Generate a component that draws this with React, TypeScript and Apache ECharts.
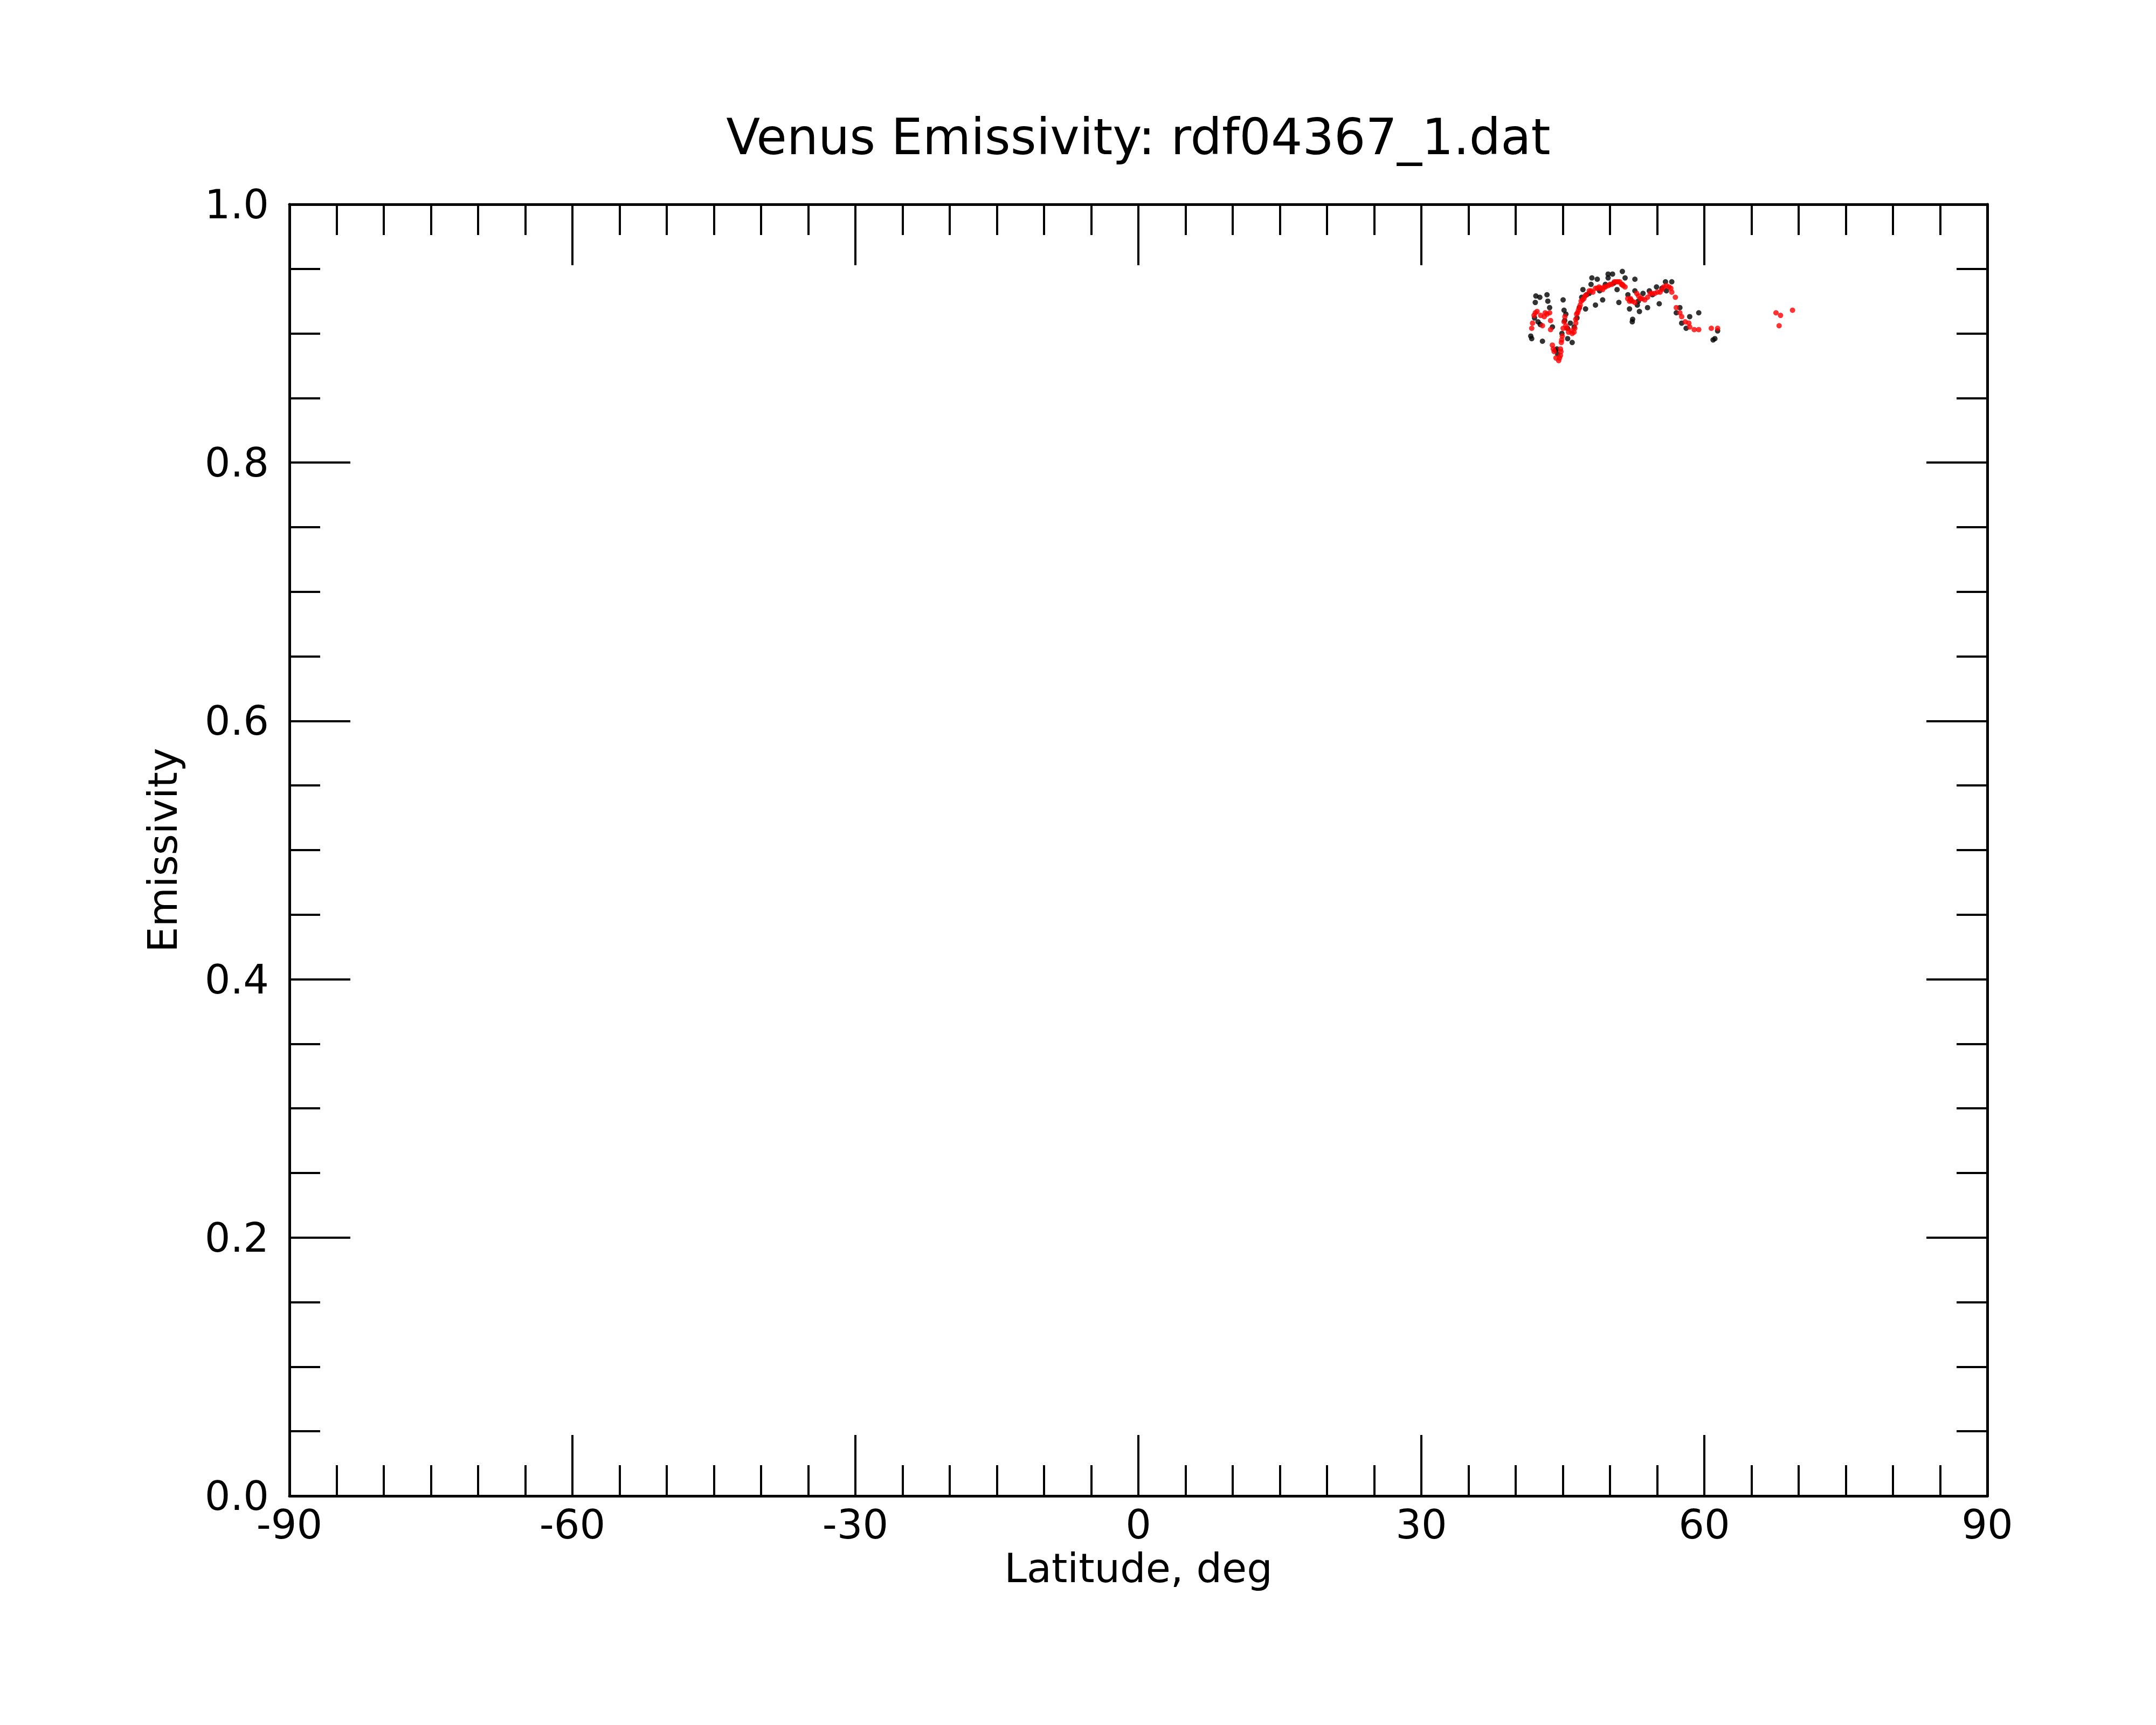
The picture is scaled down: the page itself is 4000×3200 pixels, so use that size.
import React, { useEffect, useRef } from "react";
import * as echarts from "echarts";

const titleText = "Venus Emissivity: rdf04367_1.dat";
const xName = "Latitude, deg";
const yName = "Emissivity";

const xTicks = [-90, -60, -30, 0, 30, 60, 90];
const yTicks = [0, 0.2, 0.4, 0.6, 0.8, 1.0];

// Raw measurements (black)
const blackLat = [
  41.60, 41.70, 42.84, 42.14, 42.56, 42.08, 43.32, 43.41, 43.60, 42.37, 45.03, 45.13, 45.32,
  44.37, 44.46, 45.80, 45.99, 45.51, 46.75, 47.13, 47.51, 47.41, 48.08, 48.65, 47.99,
  48.46, 49.22, 49.51, 49.80, 50.27, 49.80, 50.75, 50.94,
  42.00, 42.60, 44.20, 44.90, 45.50, 46.20, 46.50, 47.00, 47.80, 48.90, 50.40, 43.90, 45.20,
  51.31, 51.60, 52.64, 52.07, 52.36, 52.40, 53.12, 53.98, 52.64, 53.50, 54.17, 54.93,
  55.22, 55.88, 56.55, 55.98, 57.41, 57.03, 57.60, 58.45, 58.07, 59.41, 60.93, 61.12, 61.41,
  52.20, 53.00, 54.50, 55.50, 51.90, 52.90,
];
const blackEmis = [
  0.898, 0.896, 0.894, 0.929, 0.928, 0.924, 0.930, 0.925, 0.920, 0.909, 0.926, 0.918, 0.915,
  0.888, 0.884, 0.908, 0.893, 0.896, 0.920, 0.934, 0.930, 0.919, 0.943, 0.942, 0.938,
  0.922, 0.926, 0.938, 0.946, 0.946, 0.943, 0.934, 0.924,
  0.912, 0.907, 0.887, 0.900, 0.904, 0.905, 0.912, 0.928, 0.931, 0.933, 0.939, 0.905, 0.910,
  0.948, 0.943, 0.942, 0.919, 0.909, 0.911, 0.917, 0.920, 0.933, 0.931, 0.933, 0.936,
  0.923, 0.940, 0.940, 0.933, 0.920, 0.916, 0.908, 0.913, 0.904, 0.916, 0.895, 0.896, 0.902,
  0.926, 0.925, 0.930, 0.935, 0.930, 0.922,
];

// Smoothed / filtered values (red)
const redLat = [
  41.70, 41.95, 42.27, 42.65, 42.84, 43.03, 43.13, 43.60, 43.70, 43.70, 43.89, 44.08, 44.27,
  44.56, 44.75, 44.75, 44.84, 44.94, 45.03, 45.22, 45.32, 45.60, 45.89, 46.18, 46.37, 46.46,
  46.65, 46.84, 46.94, 47.22, 47.51, 47.80, 48.18, 48.46, 48.84, 49.22, 49.51, 49.80, 50.18,
  50.46, 50.84, 51.03, 51.30, 51.60, 52.07, 52.17, 52.64, 52.84, 53.22, 53.69, 54.26, 54.74,
  55.31, 55.69, 56.26, 56.55, 56.93, 57.03, 57.41, 57.60, 57.98, 58.36, 58.45, 58.93, 59.41,
  60.74, 61.41, 67.60, 68.08, 67.93, 69.35,
  46.27, 46.37, 46.56, 46.75, 47.09, 47.36, 47.99, 48.65, 49.03, 49.38, 49.98, 50.65,
  43.99, 44.65, 44.80, 44.88, 45.13, 45.99, 45.41, 41.79, 42.08, 43.32,
  51.22, 51.41, 51.88, 52.36, 53.03, 53.41, 53.98, 54.45, 55.03, 55.50, 55.98, 56.45,
];
const redEmis = [
  0.904, 0.914, 0.917, 0.914, 0.906, 0.913, 0.916, 0.916, 0.910, 0.903, 0.891, 0.886, 0.881,
  0.879, 0.883, 0.888, 0.893, 0.898, 0.904, 0.913, 0.906, 0.901, 0.902, 0.901, 0.908, 0.915,
  0.918, 0.922, 0.925, 0.927, 0.930, 0.933, 0.932, 0.935, 0.936, 0.934, 0.936, 0.937, 0.938,
  0.940, 0.940, 0.940, 0.938, 0.936, 0.925, 0.927, 0.924, 0.931, 0.927, 0.926, 0.931, 0.931,
  0.932, 0.936, 0.936, 0.932, 0.928, 0.920, 0.916, 0.913, 0.909, 0.908, 0.905, 0.903, 0.903,
  0.904, 0.904, 0.916, 0.914, 0.906, 0.918,
  0.904, 0.911, 0.916, 0.920, 0.926, 0.929, 0.933, 0.935, 0.935, 0.936, 0.938, 0.940,
  0.888, 0.881, 0.886, 0.895, 0.909, 0.900, 0.904, 0.908, 0.916, 0.915,
  0.938, 0.937, 0.927, 0.925, 0.929, 0.927, 0.928, 0.931, 0.932, 0.934, 0.937, 0.935,
];

const FONT = "DejaVu Sans";
const GRID = { left: 537, top: 379, width: 3150, height: 2396 };

function axisCommon(isX: boolean, showLabels: boolean) {
  const vals = isX ? xTicks : yTicks;
  return {
    type: "value",
    min: vals[0],
    max: vals[vals.length - 1],
    interval: vals[1] - vals[0],
    axisLine: { show: true, onZero: false, lineStyle: { color: "#000", width: 5 } },
    axisTick: { show: true, inside: true, length: 113, lineStyle: { color: "#000", width: 4 } },
    minorTick: { show: true, splitNumber: isX ? 6 : 4, length: 57, lineStyle: { color: "#000", width: 4 } },
    splitLine: { show: false },
    minorSplitLine: { show: false },
    axisLabel: {
      show: showLabels,
      fontSize: 75,
      fontFamily: FONT,
      color: "#000",
      margin: isX ? 15 : 38,
      formatter: isX ? (v: number) => String(v) : (v: number) => v.toFixed(1),
    },
  };
}

export default function App() {
  const ref = useRef<HTMLDivElement>(null);
  useEffect(() => {
    if (!ref.current) return;
    const chart = echarts.init(ref.current, null, { renderer: "svg" });
    const black = blackLat.map((x, i) => [x, blackEmis[i]]);
    const red = redLat.map((x, i) => [x, redEmis[i]]);
    chart.setOption({
      animation: false,
      backgroundColor: "#fff",
      graphic: [
        {
          type: "text",
          x: GRID.left + GRID.width / 2,
          y: 254,
          style: {
            text: titleText,
            fontSize: 92,
            fontFamily: FONT,
            fill: "#000",
            align: "center",
            verticalAlign: "middle",
          },
        },
      ],
      grid: { ...GRID, containLabel: false },
      xAxis: [
        {
          ...axisCommon(true, true),
          position: "bottom",
          name: xName,
          nameLocation: "middle",
          nameGap: 96,
          nameTextStyle: { fontSize: 75, fontFamily: FONT, color: "#000" },
        },
        { ...axisCommon(true, false), position: "top" },
      ],
      yAxis: [
        {
          ...axisCommon(false, true),
          position: "left",
          name: yName,
          nameLocation: "middle",
          nameGap: 198,
          nameTextStyle: { fontSize: 75, fontFamily: FONT, color: "#000" },
        },
        { ...axisCommon(false, false), position: "right" },
      ],
      series: [
        {
          type: "scatter",
          data: black,
          symbol: "circle",
          symbolSize: 10,
          itemStyle: { color: "#000" },
          xAxisIndex: 0,
          yAxisIndex: 0,
        },
        {
          type: "scatter",
          data: red,
          symbol: "circle",
          symbolSize: 10,
          itemStyle: { color: "#ff0000" },
          xAxisIndex: 0,
          yAxisIndex: 0,
        },
      ],
    });
    return () => chart.dispose();
  }, []);
  return (
    <div
      ref={ref}
      style={{ position: "fixed", left: 0, top: 0, width: 4000, height: 3200, background: "#fff" }}
    />
  );
}
